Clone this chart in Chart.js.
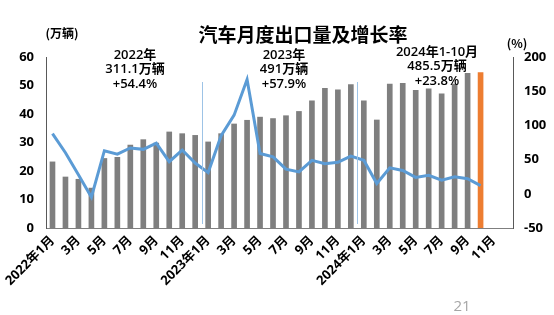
<!DOCTYPE html>
<html>
<head>
<meta charset="utf-8">
<script src="https://cdn.jsdelivr.net/npm/chart.js@4.4.1/dist/chart.umd.min.js"></script>
<style>
html,body{margin:0;padding:0;background:#fff;}
#wrap{width:554px;height:315px;}
</style>
</head>
<body>
<div id="wrap"><canvas id="exportChart" width="554" height="315"></canvas></div>
<script>
// months Jan 2022 .. Dec 2024
var months = [
  "2022年1月","2月","3月","4月","5月","6月","7月","8月","9月","10月","11月","12月",
  "2023年1月","2月","3月","4月","5月","6月","7月","8月","9月","10月","11月","12月",
  "2024年1月","2月","3月","4月","5月","6月","7月","8月","9月","10月","11月","12月"
];
// 出口量 (万辆)
var exportVolume = [
  23.2,17.9,17.1,14.0,24.4,24.8,29.1,31.0,29.8,33.7,33.1,32.5,
  30.2,33.1,36.5,37.8,38.9,38.4,39.4,40.9,44.6,49.0,48.5,50.3,
  44.6,37.9,50.5,50.8,48.3,48.8,47.1,50.5,54.3,54.5,null,null
];
// 增长率 (%)
var growthRate = [
  88,60,28,-5,63,58,67,65,74,47,64,45,
  31,85,115,167,59,54,36,32,49,44,46,55,
  49,15,38,34,24,27,20,25,22,12,null,null
];
var yearNotes = [
  ["2022年","311.1万辆","+54.4%"],
  ["2023年","491万辆","+57.9%"],
  ["2024年1-10月","485.5万辆","+23.8%"]
];

var barColors = exportVolume.map(function(v,i){ return i==33 ? "#ED7D31" : "#7F7F7F"; });
var fontFam = "'Open Sans','Noto Sans CJK SC',sans-serif";

var overlay = {
  id: "overlay",
  afterDatasetsDraw: function(chart){
    var ctx = chart.ctx;
    var x = chart.scales.x;
    ctx.save();
    // year separators
    ctx.strokeStyle = "#9DC3E6";
    ctx.lineWidth = 1;
    [11.5, 23.5].forEach(function(p){
      var px = Math.round((x.getPixelForValue(Math.floor(p)) + x.getPixelForValue(Math.ceil(p))) / 2) + 0.5;
      ctx.beginPath();
      ctx.moveTo(px, 82);
      ctx.lineTo(px, 224);
      ctx.stroke();
    });
    ctx.restore();
  },
  afterDraw: function(chart){
    var ctx = chart.ctx;
    ctx.save();
    ctx.fillStyle = "#000";
    ctx.textAlign = "center";
    ctx.textBaseline = "middle";
    ctx.font = "bold 19px 'Noto Sans CJK SC',sans-serif";
    ctx.fillText("汽车月度出口量及增长率", 303, 35);
    ctx.font = "bold 12px 'Noto Sans CJK SC',sans-serif";
    ctx.fillText("(万辆)", 62, 33);
    ctx.fillText("(%)", 517, 43);
    // year notes
    ctx.font = "600 13px " + fontFam;
    var cx = [135, 284, 437];
    var ty = [55, 55, 52];
    yearNotes.forEach(function(lines, k){
      lines.forEach(function(t, j){
        ctx.fillText(t, cx[k], ty[k] + j * 14.5);
      });
    });
    ctx.fillStyle = "#A6A6A6";
    ctx.font = "15px " + fontFam;
    ctx.fillText("21", 462, 307);
    ctx.restore();
  }
};

new Chart("exportChart", {
  type: "bar",
  data: {
    labels: months,
    datasets: [{
      type: "line",
      data: growthRate,
      yAxisID: "y1",
      borderColor: "#5B9BD5",
      borderWidth: 3,
      pointRadius: 0,
      tension: 0,
      order: 0
    },{
      type: "bar",
      data: exportVolume,
      yAxisID: "y",
      backgroundColor: barColors,
      barThickness: 5,
      order: 1
    }]
  },
  options: {
    responsive: false,
    animation: false,
    layout: { padding: { top: 57, left: 0, right: 0, bottom: 0 } },
    plugins: { legend: { display: false }, tooltip: { enabled: false } },
    scales: {
      x: {
        grid: { display: false, drawTicks: false },
        border: { color: "#7F7F7F", width: 1 },
        ticks: {
          autoSkip: false,
          maxRotation: 45,
          minRotation: 45,
          padding: 5,
          color: "#000",
          font: { family: fontFam, size: 13, weight: "bold" },
          callback: function(v, i){ return i % 2 == 0 ? months[i] : ""; }
        },
        afterFit: function(s){ s.height = 87; }
      },
      y: {
        position: "left",
        min: 0, max: 60,
        grid: { display: false, drawTicks: false },
        border: { color: "#595959", width: 1 },
        ticks: {
          stepSize: 10,
          padding: 12,
          color: "#000",
          font: { family: fontFam, size: 13, weight: "bold" }
        },
        afterFit: function(s){ s.width = 46; }
      },
      y1: {
        position: "right",
        min: -50, max: 200,
        grid: { display: false, drawTicks: false },
        border: { color: "#595959", width: 1 },
        ticks: {
          stepSize: 50,
          padding: 11,
          color: "#000",
          font: { family: fontFam, size: 13, weight: "bold" }
        },
        afterFit: function(s){ s.width = 41; }
      }
    }
  },
  plugins: [overlay]
});
</script>
</body>
</html>
